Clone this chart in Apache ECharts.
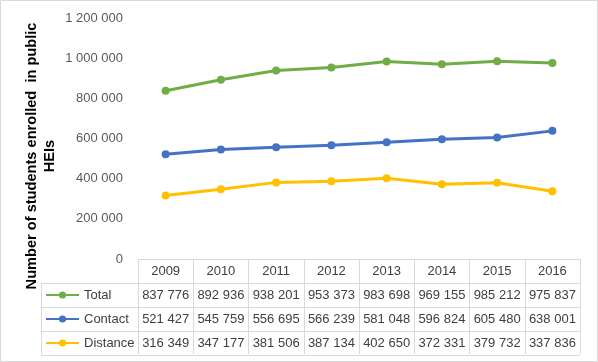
<!DOCTYPE html>
<html><head><meta charset="utf-8">
<script src="https://cdn.jsdelivr.net/npm/echarts@6/dist/echarts.min.js"></script>
<style>html,body{margin:0;padding:0;background:#fff}#c{width:598px;height:362px}</style>
</head><body><div id="c"></div>
<script>
var years = ['2009','2010','2011','2012','2013','2014','2015','2016'];
var total = [837776, 892936, 938201, 953373, 983698, 969155, 985212, 975837];
var contact = [521427, 545759, 556695, 566239, 581048, 596824, 605480, 638001];
var distance = [316349, 347177, 381506, 387134, 402650, 372331, 379732, 337836];
var seriesNames = ['Total', 'Contact', 'Distance'];
var colors = ['#70ad47', '#4472c4', '#ffc000'];
var yTitle = ['Number of students enrolled  in public', 'HEIs'];

function fmt(v){ return String(v).replace(/\B(?=(\d{3})+(?!\d))/g, ' '); }

var FONT = 'Liberation Sans, Arial, sans-serif';
var GRID = {left:138, top:18, width:442, height:241};
var ROW = 24;
var border = '#d9d9d9';
var textCol = '#404040';

var chart = echarts.init(document.getElementById('c'), null, {renderer:'canvas'});

var dataSets = [total, contact, distance];
var xAxes = [{
  type:'category', data: years, boundaryGap:true, gridIndex:0, position:'bottom',
  axisLine:{show:true, lineStyle:{color:border, width:1}},
  axisTick:{show:true, interval:0, length: ROW*4 - 1, lineStyle:{color:border}},
  axisLabel:{color:textCol, fontFamily:FONT, fontSize:13, margin:6, interval:0}
}];
dataSets.forEach(function(d, i){
  xAxes.push({
    type:'category', data: d.map(fmt), boundaryGap:true, gridIndex:0, position:'bottom',
    offset: Math.round(ROW*(i+1) - 0.5),
    axisLine:{show:true, lineStyle:{color:border, width:1}},
    axisTick:{show:false},
    axisLabel:{color:textCol, fontFamily:FONT, fontSize:13, margin:6, interval:0}
  });
});

var series = dataSets.map(function(d, i){
  return {
    name: seriesNames[i], type:'line', data:d, xAxisIndex:0, yAxisIndex:0,
    symbol:'circle', symbolSize:8,
    lineStyle:{color:colors[i], width:3},
    itemStyle:{color:colors[i]},
    emphasis:{disabled:true}, animation:false
  };
});

var tableLeft = 41;
var axisY = GRID.top + GRID.height;
var g = [];
g.push({type:'rect', shape:{x:0.5, y:0.5, width:597, height:361}, style:{fill:null, stroke:border, lineWidth:1}, silent:true});
for (var r = 1; r <= 4; r++) {
  var yy = axisY + Math.round(ROW*r - 0.5) + 0.5;
  g.push({type:'line', shape:{x1:tableLeft, y1:yy, x2: r===4 ? GRID.left+GRID.width : GRID.left, y2:yy}, style:{stroke:border, lineWidth:1}, silent:true});
}
g.push({type:'line', shape:{x1:tableLeft+0.5, y1:axisY+Math.round(ROW-0.5)+0.5, x2:tableLeft+0.5, y2:axisY+ROW*4-0.5}, style:{stroke:border, lineWidth:1}, silent:true});
g.push({type:'text', x:41, y:156, rotation:Math.PI/2,
  style:{text: yTitle.join('\n'), font:'bold 14.6px '+FONT, fill:'#000', align:'center', verticalAlign:'middle', lineHeight:18}, silent:true});

chart.setOption({
  animation:false,
  grid: GRID,
  legend:{
    orient:'vertical', left:45, top: axisY + Math.round(ROW - 0.5) + 5, padding:0,
    itemWidth:33, itemHeight:9, itemGap:10, selectedMode:false,
    data: seriesNames,
    textStyle:{color:textCol, fontFamily:FONT, fontSize:13, lineHeight:14}
  },
  xAxis: xAxes,
  yAxis:{
    type:'value', min:0, max:1200000, interval:200000,
    axisLine:{show:false}, axisTick:{show:false}, splitLine:{show:false},
    axisLabel:{color:'#595959', fontFamily:FONT, fontSize:13, margin:15, formatter:function(v){return fmt(v);}}
  },
  graphic: g,
  series: series
});
</script></body></html>
